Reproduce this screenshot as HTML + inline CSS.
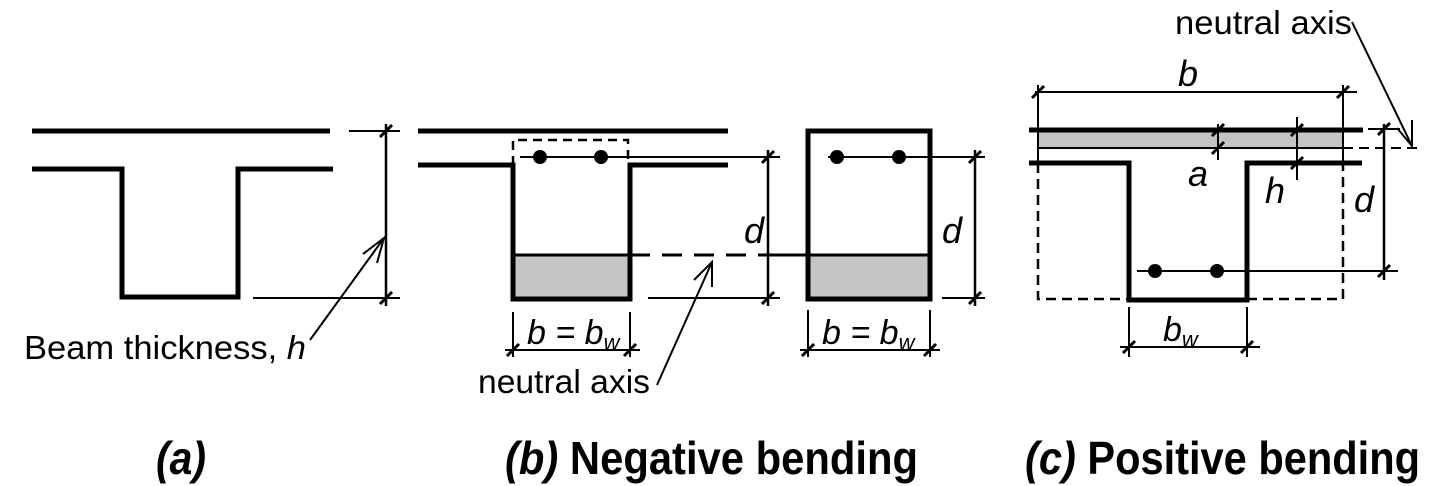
<!DOCTYPE html>
<html><head><meta charset="utf-8"><style>html,body{margin:0;padding:0;background:#fff}svg{display:block}</style></head>
<body>
<svg width="1446" height="486" viewBox="0 0 1446 486" xmlns="http://www.w3.org/2000/svg" font-family="Liberation Sans, Arial, sans-serif">
<defs>
<g id="t"><line x1="-6" y1="6" x2="6" y2="-6" stroke="#000" stroke-width="3"/></g>
</defs>
<rect width="1446" height="486" fill="#fff"/>
<rect x="513" y="255" width="117" height="44" fill="#c4c4c4"/>
<rect x="808" y="255" width="122" height="44" fill="#c4c4c4"/>
<rect x="1038" y="130" width="305" height="18" fill="#c4c4c4"/>

<g stroke="#000" fill="none" stroke-linecap="butt">
<line x1="32" y1="131" x2="330" y2="131" stroke-width="5"/>
<polyline points="32,169 122,169 122,297 238,297 238,169 333,169" stroke-width="5"/>
<line x1="349" y1="131" x2="400" y2="131" stroke-width="2"/>
<line x1="253" y1="298" x2="400" y2="298" stroke-width="2"/>
<line x1="386" y1="124" x2="386" y2="306" stroke-width="2.5"/>
<line x1="310" y1="340" x2="384" y2="238" stroke-width="2"/>
<polyline points="363,254 384,238 377,263" stroke-width="2"/>

<line x1="418" y1="131" x2="728" y2="131" stroke-width="5"/>
<polyline points="418,165 513,165 513,299 630,299 630,165 728,165" stroke-width="5"/>
<polyline points="513,165 513,140 628,140 628,165" stroke-width="2.5" stroke-dasharray="9,6"/>
<line x1="520" y1="157" x2="780" y2="157" stroke-width="2"/>
<line x1="513" y1="255" x2="630" y2="255" stroke-width="3"/>
<line x1="630" y1="255" x2="768" y2="255" stroke-width="3" stroke-dasharray="20,12"/>
<line x1="768" y1="255" x2="930" y2="255" stroke-width="3"/>
<line x1="768" y1="150" x2="768" y2="306" stroke-width="2.5"/>
<line x1="648" y1="298" x2="780" y2="298" stroke-width="2"/>
<line x1="513" y1="312" x2="513" y2="357" stroke-width="2"/>
<line x1="630" y1="312" x2="630" y2="357" stroke-width="2"/>
<line x1="505" y1="350" x2="640" y2="350" stroke-width="2"/>
<line x1="657" y1="385" x2="712" y2="262" stroke-width="2"/>
<polyline points="694,280 712,262 712,287" stroke-width="2"/>

<rect x="808" y="131" width="122" height="168" stroke-width="5"/>
<line x1="828" y1="157" x2="985" y2="157" stroke-width="2"/>
<line x1="975" y1="150" x2="975" y2="306" stroke-width="2.5"/>
<line x1="942" y1="298" x2="985" y2="298" stroke-width="2"/>
<line x1="808" y1="310" x2="808" y2="357" stroke-width="2"/>
<line x1="930" y1="310" x2="930" y2="357" stroke-width="2"/>
<line x1="800" y1="350" x2="940" y2="350" stroke-width="2"/>

<line x1="1029" y1="130" x2="1363" y2="130" stroke-width="5"/>
<line x1="1038" y1="148" x2="1343" y2="148" stroke-width="2"/>
<polyline points="1029,163 1129,163 1129,300 1247,300 1247,163 1362,163" stroke-width="5"/>
<polyline points="1038,163 1038,299 1129,299" stroke-width="2.5" stroke-dasharray="10,6"/>
<polyline points="1247,299 1343,299 1343,163" stroke-width="2.5" stroke-dasharray="10,6"/>
<line x1="1038" y1="85" x2="1038" y2="163" stroke-width="2"/>
<line x1="1343" y1="85" x2="1343" y2="163" stroke-width="2"/>
<line x1="1035" y1="92" x2="1357" y2="92" stroke-width="2"/>
<line x1="1218" y1="124" x2="1218" y2="160" stroke-width="2"/>
<line x1="1297" y1="117" x2="1297" y2="180" stroke-width="2"/>
<line x1="1368" y1="129" x2="1400" y2="129" stroke-width="2"/>
<line x1="1384" y1="124" x2="1384" y2="280" stroke-width="2.5"/>
<line x1="1137" y1="271" x2="1398" y2="271" stroke-width="2"/>
<line x1="1343" y1="148" x2="1420" y2="148" stroke-width="2" stroke-dasharray="10,6"/>
<line x1="1352" y1="22" x2="1412" y2="146" stroke-width="2"/>
<polyline points="1397,128 1412,146 1412,120" stroke-width="2"/>
<line x1="1129" y1="307" x2="1129" y2="357" stroke-width="2"/>
<line x1="1247" y1="307" x2="1247" y2="357" stroke-width="2"/>
<line x1="1120" y1="347" x2="1260" y2="347" stroke-width="2"/>
</g>

<use href="#t" x="386" y="131"/><use href="#t" x="386" y="298"/>
<use href="#t" x="768" y="157"/><use href="#t" x="768" y="298"/>
<use href="#t" x="513" y="350"/><use href="#t" x="630" y="350"/>
<use href="#t" x="975" y="157"/><use href="#t" x="975" y="298"/>
<use href="#t" x="808" y="350"/><use href="#t" x="930" y="350"/>
<use href="#t" x="1038" y="92"/><use href="#t" x="1343" y="92"/>
<use href="#t" x="1218" y="130"/><use href="#t" x="1218" y="148"/>
<use href="#t" x="1297" y="130"/><use href="#t" x="1297" y="163"/>
<use href="#t" x="1384" y="129"/><use href="#t" x="1384" y="271"/>
<use href="#t" x="1129" y="347"/><use href="#t" x="1247" y="347"/>

<g fill="#000">
<circle cx="540" cy="157" r="7"/><circle cx="601" cy="157" r="7"/>
<circle cx="837" cy="157" r="7"/><circle cx="899" cy="157" r="7"/>
<circle cx="1155" cy="271" r="7"/><circle cx="1217" cy="271" r="7"/>
</g>

<g font-size="33" fill="#000">
<text x="24" y="359" textLength="282" lengthAdjust="spacingAndGlyphs">Beam thickness, <tspan font-style="italic">h</tspan></text>
<text x="478" y="393" textLength="172" lengthAdjust="spacingAndGlyphs">neutral axis</text>
<text x="1175" y="34" textLength="177" lengthAdjust="spacingAndGlyphs">neutral axis</text>
<g font-style="italic" font-size="36">
<text x="744" y="243">d</text>
<text x="942" y="243">d</text>
<text x="1354" y="212">d</text>
<text x="1178" y="86">b</text>
<text x="1188" y="186">a</text>
<text x="1265" y="203">h</text>
</g>
<g font-style="italic" font-size="34">
<text x="527" y="344">b = b<tspan font-size="22" dy="6">w</tspan></text>
<text x="822" y="344">b = b<tspan font-size="22" dy="6">w</tspan></text>
<text x="1163" y="341">b<tspan font-size="22" dy="6">w</tspan></text>
</g>
</g>
<g font-size="46" font-weight="bold" fill="#000">
<text x="156" y="474" font-style="italic" textLength="50" lengthAdjust="spacingAndGlyphs">(a)</text>
<text x="505" y="474" textLength="413" lengthAdjust="spacingAndGlyphs"><tspan font-style="italic">(b)</tspan> Negative bending</text>
<text x="1025" y="474" textLength="395" lengthAdjust="spacingAndGlyphs"><tspan font-style="italic">(c)</tspan> Positive bending</text>
</g>
</svg>
</body></html>
